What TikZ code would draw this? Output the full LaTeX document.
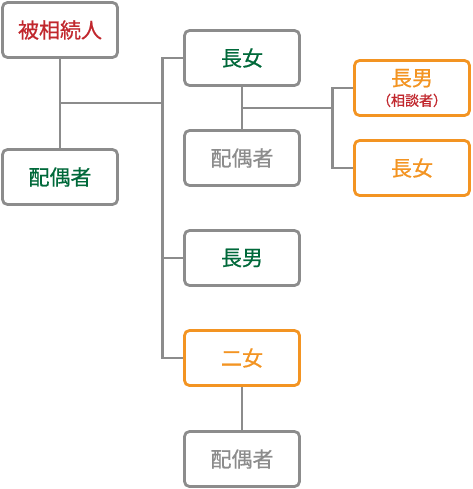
\documentclass[tikz,border=0pt]{standalone}
\usepackage{fontspec}
\setmainfont{Noto Sans CJK JP}
\newfontfamily\jpmed{Noto Sans CJK JP}[FakeBold=0.7]
\usepackage{tikz}
\usetikzlibrary{positioning, calc}
\definecolor{boxgray}{HTML}{8C8C8C}
\definecolor{heirgreen}{HTML}{00693A}
\definecolor{deadred}{HTML}{C1272D}
\definecolor{focusorange}{HTML}{F39422}
\tikzset{
	person/.style={draw=boxgray, line width=2.8pt, rounded corners=5pt, fill=white,
		minimum width=115pt, minimum height=55pt, inner sep=0pt,
		font=\jpmed\fontsize{21}{25}\selectfont},
	heir/.style={person, text=heirgreen},
	other/.style={person, text=boxgray},
	focus/.style={person, draw=focusorange, text=focusorange},
	link/.style={draw=boxgray, line width=2.8pt}
}

\begin{document}
\begin{tikzpicture}[x=1pt, y=-1pt]
      \useasboundingbox (0,0) rectangle (472,489);
      % junctions
      \coordinate (m1) at (60,103);
      \coordinate (t1) at (162,103);
      \coordinate (m2) at (242,108);
      \coordinate (t2) at (332,108);
      % people
      \node[person, text=deadred] (deceased) at (60,30) {被相続人};
      \node[heir] (spouse) at (60,177) {配偶者};
      \node[heir] (daughter1) at (242,58) {長女};
      \node[other] (dspouse) at (242,158) {配偶者};
      \node[focus, align=center] (grandson) at (412,88)
        {長男\\[-5pt]{\fontsize{14}{15}\selectfont\color{deadred}（相談者）}};
      \node[focus] (granddaughter) at (412,168) {長女};
      \node[heir] (son1) at (242,258) {長男};
      \node[focus] (daughter2) at (242,358) {二女};
      \node[other] (d2spouse) at (242,459) {配偶者};
      % connectors
      \draw[link] (deceased) -- (spouse);
      \draw[link] (m1) -- (t1);
      \draw[link] (daughter1.west) -- ++(-21,0) |- (daughter2.west);
      \draw[link] (son1.west) -- ++(-21,0);
      \draw[link] (daughter1) -- (dspouse);
      \draw[link] (m2) -- (t2);
      \draw[link] (grandson.west) -- ++(-21,0) |- (granddaughter.west);
      \draw[link] (daughter2) -- (d2spouse);
    \end{tikzpicture}
\end{document}
